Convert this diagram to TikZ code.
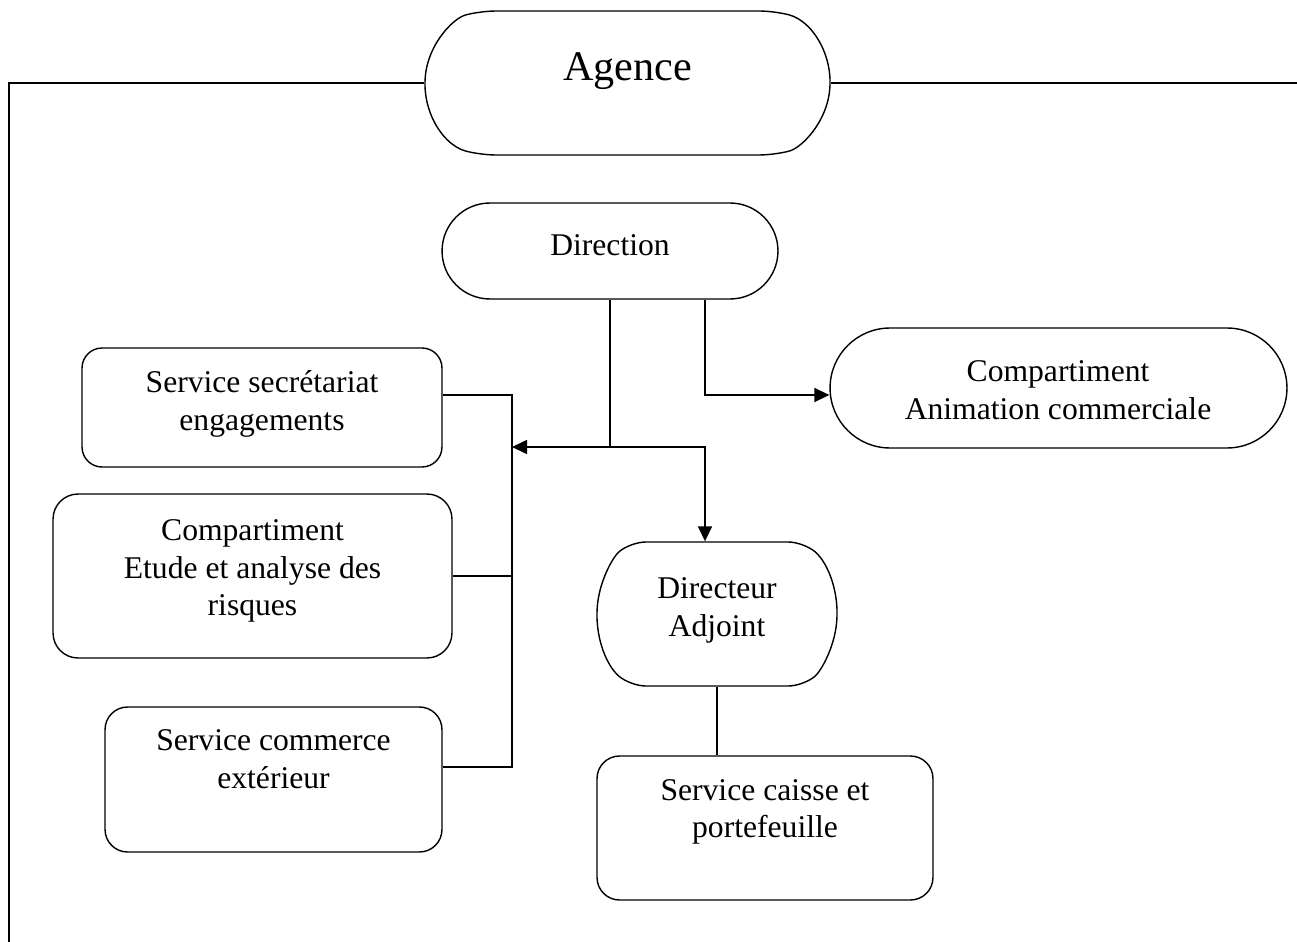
\documentclass[tikz,border=0pt]{standalone}
\usepackage{fontspec}
\setmainfont{Liberation Serif}
\usetikzlibrary{shapes.misc,arrows.meta}

\begin{document}
\begin{tikzpicture}[x=0.02cm,y=-0.02cm,
  box/.style={draw,line width=0.8pt,rounded corners=0.45cm,inner sep=0pt},
  pill/.style={draw,line width=0.8pt,rounded rectangle,inner sep=0pt},
  txt/.style={inner sep=0pt,align=center,font=\fontsize{18}{21.3}\selectfont},
  link/.style={line width=0.8pt},
  arr/.style={line width=0.9pt,-{Triangle[length=0.3cm,width=0.28cm]}}]
\useasboundingbox (0,0) rectangle (1297,942);

% Shapes
\node[pill,rounded rectangle arc length=150,rounded corners=0.3cm,minimum width=8.1cm,minimum height=2.88cm] (agence) at (627.5,83) {};
\node[pill,minimum width=6.72cm,minimum height=1.92cm] (direction) at (610,251) {};
\node[pill,minimum width=9.14cm,minimum height=2.4cm] (anim) at (1058.5,388) {};
\node[box,rounded corners=0.4cm,minimum width=7.2cm,minimum height=2.38cm] (secr) at (262,407.5) {};
\node[box,rounded corners=0.5cm,minimum width=7.98cm,minimum height=3.28cm] (etude) at (252.5,576) {};
\node[box,minimum width=6.74cm,minimum height=2.9cm] (commerce) at (273.5,779.5) {};
\node[pill,rounded rectangle arc length=100,rounded corners=0.3cm,minimum width=4.8cm,minimum height=2.88cm] (adjoint) at (717,614) {};
\node[box,minimum width=6.72cm,minimum height=2.88cm] (caisse) at (765,828) {};

% Texts
\node[txt,font=\fontsize{24}{28}\selectfont] (agence-t) at (627.5,71) {Agence};
\node[txt] (direction-t) at (610,245) {Direction};
\node[txt] (anim-t) at (1058,390) {Compartiment\\Animation commerciale};
\node[txt] (secr-t) at (262,404) {Service secrétariat\\engagements};
\node[txt] (etude-t) at (252.5,571) {Compartiment\\Etude et analyse des\\risques};
\node[txt] (commerce-t) at (273.5,759) {Service commerce\\extérieur};
\node[txt] (adjoint-t) at (717,610.5) {Directeur\\Adjoint};
\node[txt] (caisse-t) at (765,812) {Service caisse et\\portefeuille};

% Frame
\draw[link] (agence.east) -- (1297,83);
\draw[link] (agence.west) -- (9,83) -- (9,942);

% Bus on the left
\coordinate (bustop) at (512,395);
\coordinate (busjoin) at (512,447);
\coordinate (busbot) at (512,767);
\draw[link] (secr.east |- bustop) -- (bustop) -- (busbot) -- (commerce.east |- busbot);
\draw[link] (etude.east) -- (etude.east -| bustop);

% Arrows from Direction
\draw[arr] (direction.south) |- (busjoin);
\draw[arr] (direction.south |- busjoin) -| ([xshift=-0.24cm]adjoint.north);
\draw[arr] ([xshift=1.9cm]direction.south) |- ([yshift=-0.14cm]anim.west);
\draw[link] (adjoint.south) -- (adjoint.south |- caisse.north);
\end{tikzpicture}
\end{document}
